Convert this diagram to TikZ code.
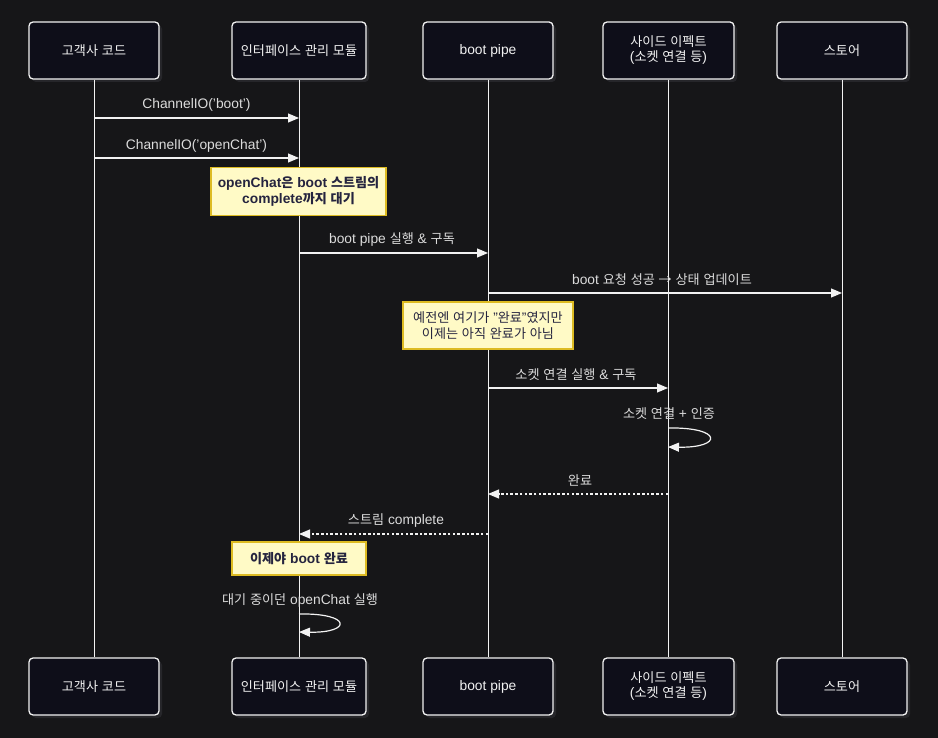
\documentclass[tikz,border=0pt]{standalone}
\usepackage{fontspec}
\setmainfont{Liberation Sans}
\newfontfamily\krfont{Noto Sans CJK KR}[Scale=0.95]
\XeTeXinterchartokenstate=1
\newXeTeXintercharclass\krclass
\newcount\kc
\kc="AC00
\loop \XeTeXcharclass\kc=\krclass \advance\kc by 1 \ifnum\kc<"D7A4 \repeat
\XeTeXinterchartoks 0 \krclass={\begingroup\krfont}
\XeTeXinterchartoks 4095 \krclass={\begingroup\krfont}
\XeTeXinterchartoks \krclass 0={\endgroup}
\XeTeXinterchartoks \krclass 4095={\endgroup}
\usetikzlibrary{arrows.meta}
\definecolor{bg}{HTML}{161618}
\definecolor{boxfill}{HTML}{0E0E19}
\definecolor{boxshadow}{HTML}{26262A}
\definecolor{fg}{HTML}{F2F2F2}
\definecolor{lbl}{HTML}{DCDCDC}
\definecolor{notefill}{HTML}{FFFAC6}
\definecolor{notedraw}{HTML}{DDBB22}
\definecolor{notetext}{HTML}{25243F}
\begin{document}
\begin{tikzpicture}[x=1pt,y=-1pt,
  actor/.style={draw=fg,fill=boxfill,line width=1.3pt,rounded corners=4pt,
    minimum width=130pt,minimum height=57pt,align=center,text=fg,
    font=\fontsize{13.8}{15}\selectfont,inner sep=2pt},
  wideactor/.style={actor,minimum width=134pt},
  life/.style={draw=fg,line width=1pt},
  msg/.style={draw=fg,line width=1.2pt,-{Triangle[length=11pt,width=9pt]}},
  ret/.style={msg,dash pattern=on 2.5pt off 2.2pt},
  mlabel/.style={text=lbl,font=\fontsize{13.8}{16}\selectfont,inner sep=0pt},
  note/.style={draw=notedraw,fill=notefill,line width=1.4pt,text=notetext,
    align=center,font=\fontsize{13.8}{16}\selectfont,inner sep=2pt}
]
\fill[bg] (0,0) rectangle (938,738);
\useasboundingbox (0,0) rectangle (938,738);

% shadows
\foreach \cx/\w in {94/130,299/134,488/130,668.5/131,842/130}{
  \fill[boxshadow,rounded corners=4pt] (\cx-\w/2+3,22+3) rectangle (\cx+\w/2+3,79+3);
  \fill[boxshadow,rounded corners=4pt] (\cx-\w/2+3,658+3) rectangle (\cx+\w/2+3,715+3);
}

% actors top
\node[actor] (t1) at (94,50.5) {고객사 코드};
\node[wideactor] (t2) at (299,50.5) {인터페이스 관리 모듈};
\node[actor] (t3) at (488,50.5) {boot pipe};
\node[actor,minimum width=131pt] (t4) at (668.5,50.5) {사이드 이펙트\\(소켓 연결 등)};
\node[actor] (t5) at (842,50.5) {스토어};
% actors bottom
\node[actor] (b1) at (94,686.5) {고객사 코드};
\node[wideactor] (b2) at (299,686.5) {인터페이스 관리 모듈};
\node[actor] (b3) at (488,686.5) {boot pipe};
\node[actor,minimum width=131pt] (b4) at (668.5,686.5) {사이드 이펙트\\(소켓 연결 등)};
\node[actor] (b5) at (842,686.5) {스토어};

% lifelines
\draw[life] (t1.south) -- (b1.north);
\draw[life] (t2.south) -- (b2.north);
\draw[life] (t3.south) -- (b3.north);
\draw[life] (t4.south) -- (b4.north);
\draw[life] (t5.south) -- (b5.north);

% coordinates on lifelines
\coordinate (m1s) at (94,118);  \coordinate (m1e) at (299,118);
\coordinate (m2s) at (94,158);  \coordinate (m2e) at (299,158);
\coordinate (m3s) at (299,253); \coordinate (m3e) at (488,253);
\coordinate (m4s) at (488,293); \coordinate (m4e) at (842,293);
\coordinate (m5s) at (488,388); \coordinate (m5e) at (668,388);
\coordinate (l1s) at (668,428); \coordinate (l1e) at (668,447);
\coordinate (m6s) at (668,494); \coordinate (m6e) at (488,494);
\coordinate (m7s) at (488,534); \coordinate (m7e) at (299,534);
\coordinate (l2s) at (299,614); \coordinate (l2e) at (299,632);

% messages
\draw[msg] (m1s) -- (m1e);
\node[mlabel] (lb1) at (196.5,105) {ChannelIO('boot')};
\draw[msg] (m2s) -- (m2e);
\node[mlabel] (lb2) at (196.5,145.5) {ChannelIO('openChat')};

\node[note,minimum width=175pt,minimum height=48pt] (n1) at (298.5,191.5)
  {\bfseries openChat은 boot 스트림의\\\bfseries complete까지 대기};

\draw[msg] (m3s) -- (m3e);
\node[mlabel] (lb3) at (392,240) {boot pipe 실행 \& 구독};
\draw[msg] (m4s) -- (m4e);
\node[mlabel] (lb4) at (662,280) {boot 요청 성공 {\krfont →} 상태 업데이트};

\node[note,minimum width=170pt,minimum height=47pt] (n2) at (488,325.5)
  {예전엔 여기가 "완료"였지만\\이제는 아직 완료가 아님};

\draw[msg] (m5s) -- (m5e);
\node[mlabel] (lb5) at (576,375) {소켓 연결 실행 \& 구독};

\node[mlabel] (lb6) at (669,414) {소켓 연결 + 인증};
\draw[msg] (l1s) .. controls (723,427) and (723,448) .. (l1e);

\draw[ret] (m6s) -- (m6e);
\node[mlabel] (lb7) at (580,480) {완료};
\draw[ret] (m7s) -- (m7e);
\node[mlabel] (lb8) at (396,521) {스트림 complete};

\node[note,minimum width=134pt,minimum height=33pt] (n3) at (299,558.5)
  {\bfseries 이제야 boot 완료};

\node[mlabel] (lb9) at (300,601) {대기 중이던 openChat 실행};
\draw[msg] (l2s) .. controls (352,613) and (352,633) .. (l2e);
\end{tikzpicture}
\end{document}
